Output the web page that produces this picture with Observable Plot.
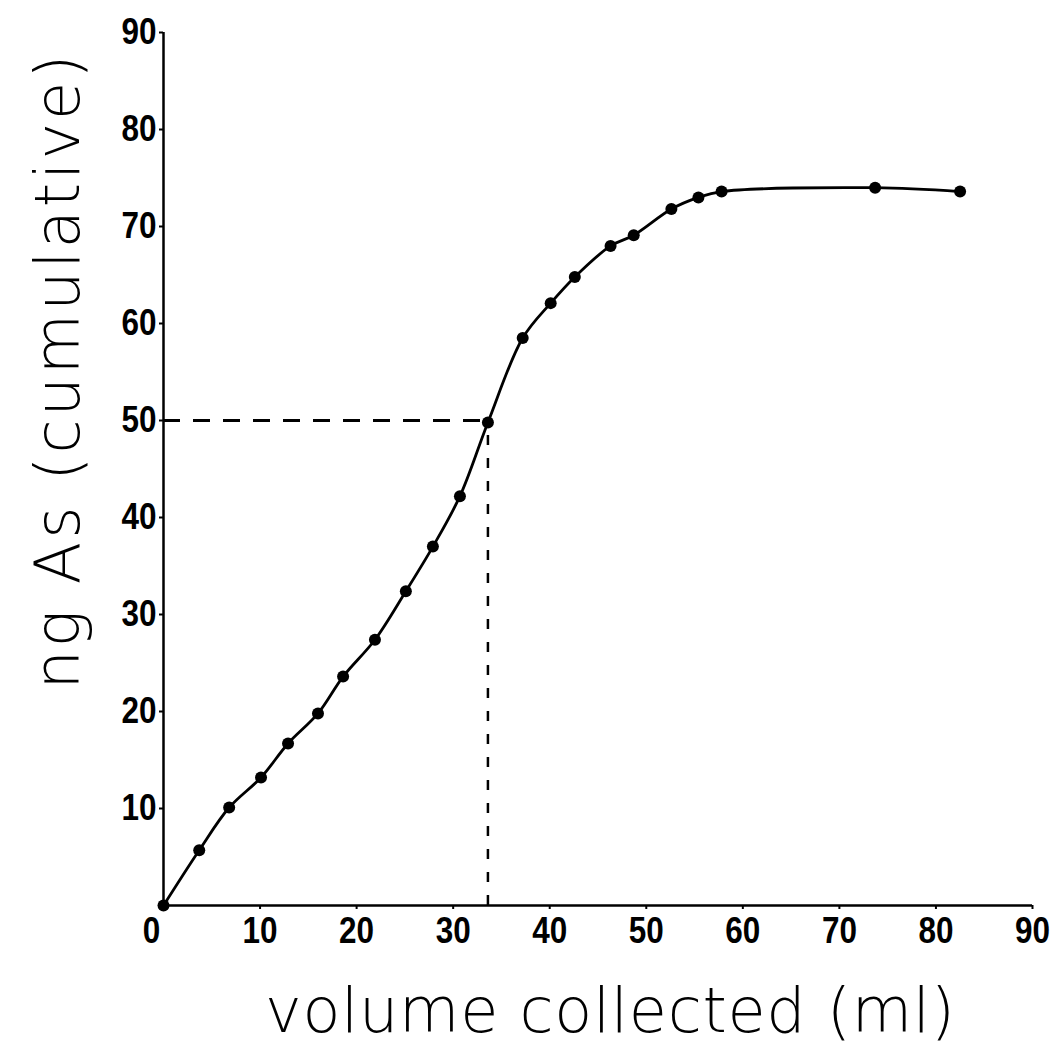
<!DOCTYPE html>
<html>
<head>
<meta charset="utf-8">
<script src="https://cdn.jsdelivr.net/npm/d3@7"></script>
<script src="https://cdn.jsdelivr.net/npm/@observablehq/plot@0.6"></script>
<style>
  html, body { margin: 0; padding: 0; background: #fff; }
  #chart { width: 1056px; height: 1050px; }
</style>
</head>
<body>
<div id="chart"></div>
<script>
// Data
const volume = [0, 3.7, 6.8, 10.1, 12.9, 16.0, 18.6, 21.9, 25.1, 27.9, 30.7, 33.6, 37.2, 40.1, 42.6, 46.3, 48.7, 52.6, 55.4, 57.8, 73.7, 82.5];
const ngAs   = [0, 5.7, 10.1, 13.2, 16.7, 19.8, 23.6, 27.4, 32.4, 37.0, 42.2, 49.8, 58.5, 62.1, 64.8, 68.0, 69.1, 71.8, 73.0, 73.6, 74.0, 73.6];
const xTicks = [0, 10, 20, 30, 40, 50, 60, 70, 80, 90];
const yTicks = [10, 20, 30, 40, 50, 60, 70, 80, 90];
const halfValue = 50;       // ng As at half recovery
const halfVolume = 33.6;    // volume at half recovery
const xTitle = "volume collected (ml)";
const yTitle = "ng As (cumulative)";

const points = volume.map((v, i) => ({volume: v, ng: ngAs[i]}));

const tickFont = {fontSize: 36, fontWeight: "bold", fontFamily: "'Liberation Sans', Arial, sans-serif"};

const chart = Plot.plot({
  width: 1056,
  height: 1050,
  marginLeft: 163,
  marginRight: 24,
  marginTop: 32,
  marginBottom: 145,
  x: {domain: [0, 90], axis: null},
  y: {domain: [0, 90], axis: null},
  style: {background: "#fff", color: "#000"},
  marks: [
    // dashed guides
    Plot.ruleY([halfValue], {x1: 0, x2: halfVolume, stroke: "#000", strokeWidth: 3, strokeDasharray: "17,13"}),
    Plot.ruleX([halfVolume], {y1: 0, y2: halfValue, stroke: "#000", strokeWidth: 2.5, strokeDasharray: "10,13"}),
    // axes lines
    Plot.ruleX([0], {y1: 0, y2: 90, stroke: "#000", strokeWidth: 2.5}),
    Plot.ruleY([0], {x1: 0, x2: 90, stroke: "#000", strokeWidth: 2.5}),
    // ticks and labels
    Plot.axisY({ticks: yTicks, tickSize: 4, tickPadding: 3, tickFormat: d => String(d), label: null, stroke: "#000", strokeWidth: 2, ...tickFont}),
    Plot.axisX({ticks: xTicks.filter(d => d !== 0), tickSize: 4, tickPadding: 8, tickFormat: d => String(d), label: null, stroke: "#000", strokeWidth: 2, ...tickFont}),
    Plot.axisX({ticks: [0], tickSize: 0, tickPadding: 12, dx: -12, tickFormat: d => String(d), label: null, ...tickFont}),
    // curve and points
    Plot.line(points, {x: "volume", y: "ng", curve: "catmull-rom", stroke: "#000", strokeWidth: 2.8}),
    Plot.dot(points, {x: "volume", y: "ng", r: 6, fill: "#000", stroke: "none"})
  ]
});

const svg = d3.select(chart);
// narrow, condensed look for the tick labels
svg.selectAll('g[aria-label$="tick label"] text').each(function() {
  const t = this.textContent;
  this.setAttribute("textLength", t.length * 17.5);
  this.setAttribute("lengthAdjust", "spacingAndGlyphs");
});

const titleFont = "'DejaVu Sans', 'Noto Sans', sans-serif";
svg.append("text")
  .attr("transform", "translate(57,372) rotate(-90)")
  .attr("text-anchor", "middle")
  .attr("dominant-baseline", "central")
  .attr("font-family", titleFont)
  .attr("font-weight", 200)
  .attr("font-size", 62)
  .attr("textLength", 635)
  .attr("lengthAdjust", "spacing")
  .attr("fill", "#000")
  .text(yTitle);
svg.append("text")
  .attr("x", 610)
  .attr("y", 1032)
  .attr("text-anchor", "middle")
  .attr("font-family", titleFont)
  .attr("font-weight", 200)
  .attr("font-size", 62)
  .attr("textLength", 690)
  .attr("lengthAdjust", "spacing")
  .attr("fill", "#000")
  .text(xTitle);

document.getElementById("chart").appendChild(chart);
</script>
</body>
</html>
